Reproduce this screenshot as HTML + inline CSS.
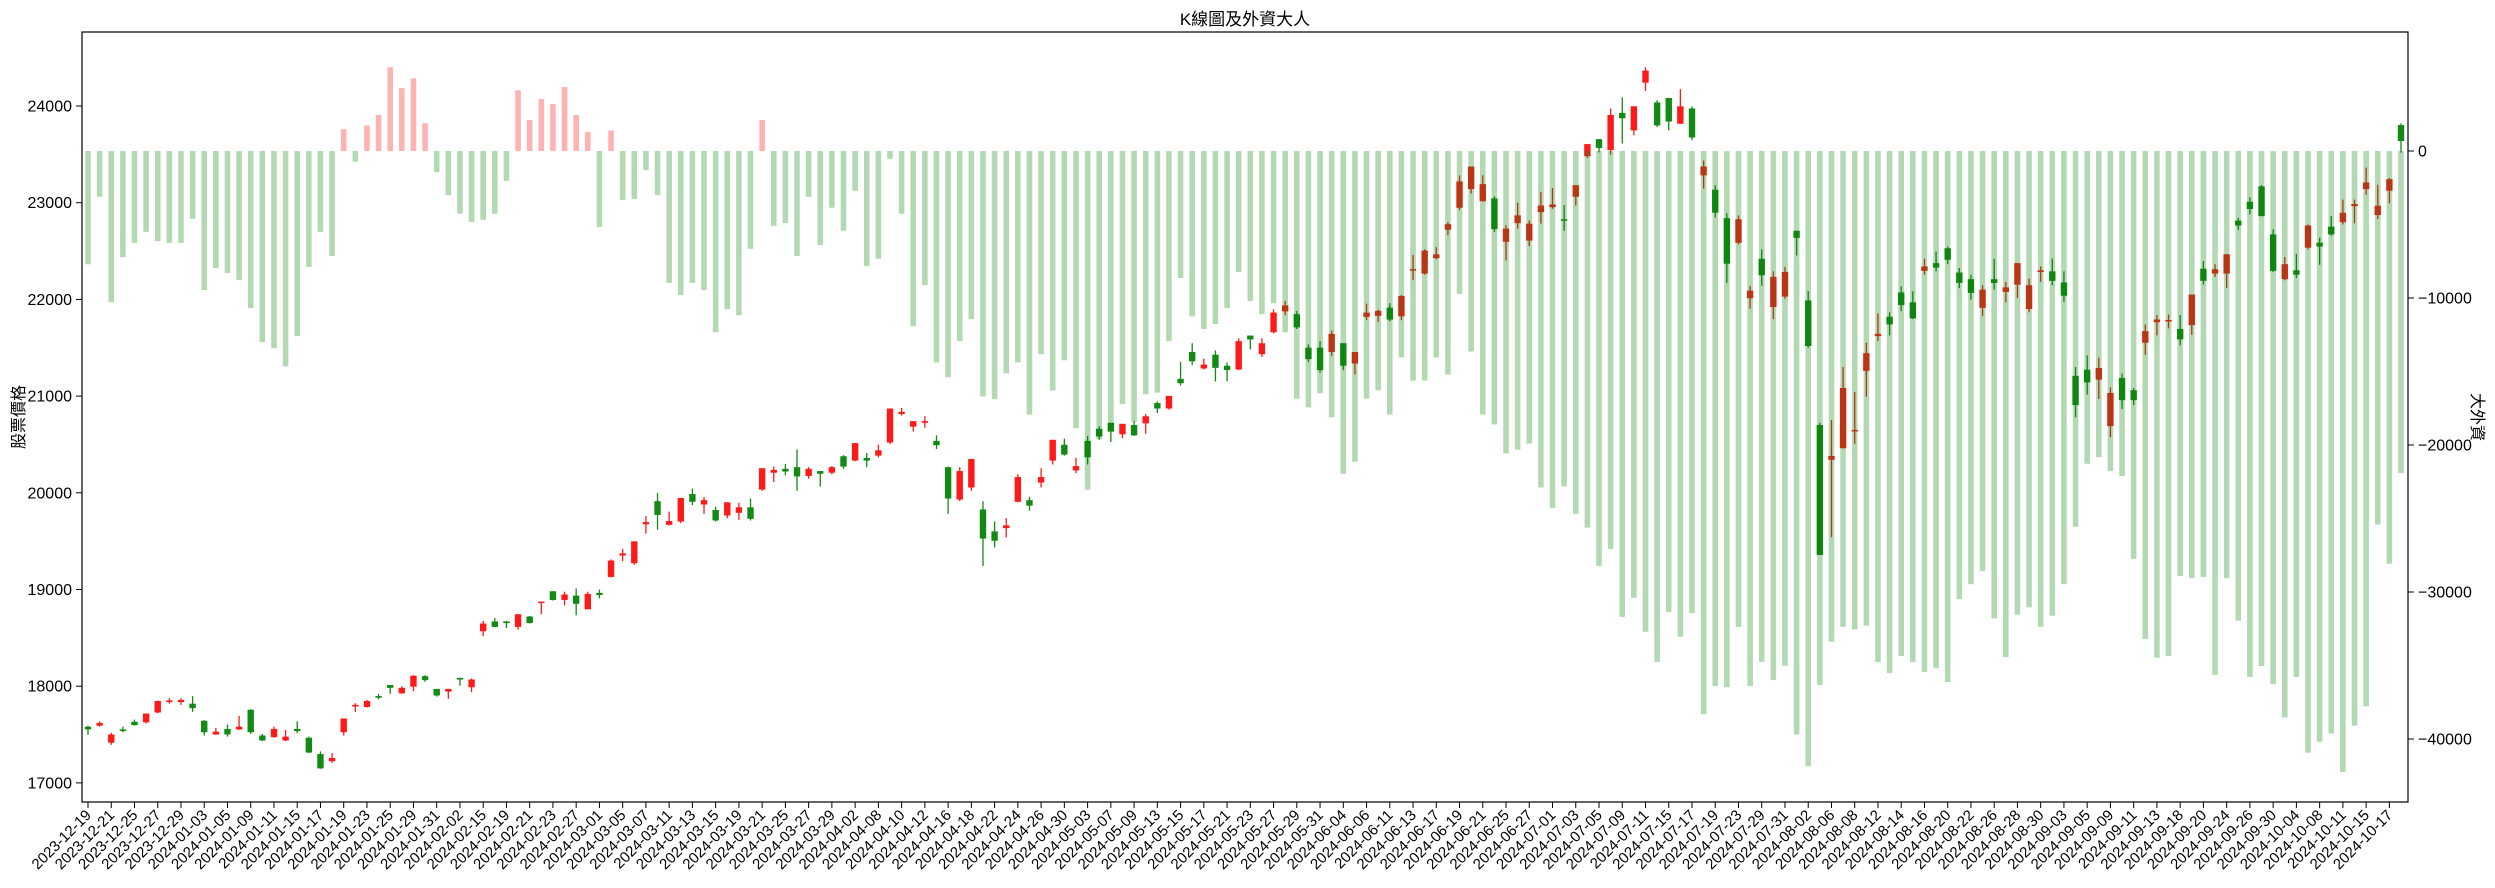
<!DOCTYPE html>
<html><head><meta charset="utf-8">
<style>
html,body{margin:0;padding:0;background:#fff;}
svg{display:block;font-family:"Liberation Sans","Noto Sans CJK TC",sans-serif;}
</style></head>
<body>
<svg id="chart" width="2495" height="888" viewBox="0 0 2495 888" xmlns="http://www.w3.org/2000/svg">
<rect x="0" y="0" width="2495" height="888" fill="#fff"/>
<text x="1245" y="25" font-size="17" text-anchor="middle" fill="#000">K線圖及外資大人</text>
<text transform="translate(24,417) rotate(-90)" font-size="16" text-anchor="middle" fill="#000">股票價格</text>
<text transform="translate(2472,417) rotate(90)" font-size="16" text-anchor="middle" fill="#000">大外資</text>
<g id="candles"></g>
<g id="bars"></g>
<g id="axes"></g>
</svg>
<script>
const opens=[17581,17592,17416,17553,17632,17626,17728,17836,17836,17819,17643,17501,17558,17553,17756,17490,17473,17439,17558,17467,17298,17224,17524,17790,17785,17898,18012,17927,17995,18103,17972,17944,18086,17989,18568,18670,18670,18613,18721,18869,18982,18892,18937,18795,18965,19130,19351,19272,19674,19913,19669,19703,19987,19879,19822,19765,19793,19850,20033,20208,20248,20265,20174,20225,20208,20378,20333,20361,20384,20520,20815,20684,20724,20537,20265,19930,20055,19828,19601,19635,19907,19924,20106,20333,20497,20231,20537,20662,20724,20605,20701,20718,20928,20872,21178,21456,21286,21428,21314,21275,21626,21433,21660,21876,21847,21501,21501,21456,21547,21337,21819,21830,21915,21825,22301,22267,22426,22721,22948,23141,23016,23044,22596,22789,22608,22903,22954,22829,23062,23481,23657,23544,23929,23748,24241,24037,24083,23816,23975,23283,23135,22840,22585,22012,22420,21921,22029,22710,21989,20701,20341,20461,20638,21261,21621,21821,22072,21970,22295,22375,22529,22278,22209,21913,22209,22078,22152,21901,22284,22290,22175,21210,21273,21170,20690,21187,21061,21552,21764,21775,21695,21735,22318,22267,22267,22815,23009,23169,22672,22209,22301,22535,22587,22752,22798,22964,23141,22872,23124,23803];
const highs=[17592,17637,17518,17581,17654,17717,17853,17875,17875,17898,17649,17569,17603,17694,17762,17507,17581,17547,17637,17479,17326,17309,17666,17824,17858,17921,18012,18000,18114,18114,17972,17972,18086,18080,18676,18704,18676,18744,18727,18875,18982,18977,19011,18977,18999,19311,19419,19498,19759,19998,19805,19947,20044,19958,19856,19902,19896,19941,20254,20271,20299,20447,20265,20225,20276,20390,20514,20412,20497,20872,20877,20741,20792,20594,20271,20265,20350,19913,19703,19737,20191,19958,20254,20548,20560,20361,20588,20690,20724,20713,20741,20815,20945,21002,21354,21547,21388,21473,21348,21598,21626,21598,21898,21984,21881,21535,21569,21677,21547,21456,21955,21893,21961,22046,22460,22517,22540,22800,23283,23374,23283,23067,22766,22999,22817,23112,23152,22976,23181,23606,23657,23975,24088,23997,24400,24060,24083,24173,23997,23436,23181,22891,22868,22142,22517,22290,22335,22710,22086,20724,20753,21301,21044,21552,21855,21867,22135,22084,22421,22495,22547,22324,22255,22147,22421,22181,22375,22215,22341,22421,22290,21301,21421,21398,21090,21233,21084,21741,21838,21844,21838,22050,22398,22364,22467,22844,23055,23181,22724,22438,22472,22775,22638,22861,23032,23032,23363,23186,23255,23821];
const lows=[17496,17581,17394,17524,17592,17615,17722,17819,17807,17734,17490,17496,17479,17547,17507,17433,17467,17433,17513,17309,17145,17207,17490,17734,17779,17864,17921,17921,17949,18046,17893,17870,18006,17938,18517,18613,18602,18585,18648,18744,18886,18835,18733,18795,18909,19124,19294,19255,19578,19618,19663,19686,19873,19782,19703,19737,19720,19714,20021,20112,20180,20021,20146,20066,20191,20248,20327,20265,20367,20503,20798,20633,20673,20452,19782,19913,20021,19244,19436,19538,19902,19816,20055,20293,20384,20203,20293,20548,20526,20565,20588,20611,20826,20860,21110,21320,21275,21150,21155,21269,21484,21405,21649,21836,21694,21354,21241,21416,21269,21224,21785,21768,21774,21785,22199,22256,22415,22664,22925,23095,23010,22698,22403,22732,22551,22783,22937,22710,22971,23464,23521,23498,23612,23697,24156,23782,23748,23816,23646,23146,22846,22171,22568,21904,22142,21796,22006,22454,21501,19357,19541,20461,20507,20993,21570,21627,21878,21798,22255,22290,22364,22118,21998,21827,22101,21970,22015,21867,22181,22147,21975,20781,21016,20970,20576,20867,20907,21427,21627,21701,21524,21633,22152,22232,22118,22718,22878,22861,22284,22198,22221,22518,22358,22661,22775,22787,23084,22832,22992,23518];
const closes=[17553,17620,17501,17536,17598,17717,17847,17853,17858,17773,17524,17530,17501,17581,17524,17439,17558,17479,17536,17314,17150,17258,17666,17807,17847,17881,17983,17983,18108,18063,17904,17972,18069,18069,18648,18613,18653,18744,18653,18875,18892,18948,18852,18954,18943,19300,19374,19498,19697,19771,19708,19947,19907,19924,19714,19902,19850,19731,20254,20237,20220,20169,20248,20197,20265,20271,20514,20333,20440,20872,20838,20741,20741,20492,19941,20225,20350,19527,19504,19663,20163,19867,20163,20548,20395,20276,20367,20582,20633,20713,20594,20792,20872,21002,21133,21360,21326,21292,21269,21569,21586,21547,21864,21938,21711,21382,21269,21643,21314,21456,21864,21881,21791,22035,22313,22505,22466,22778,23220,23374,23192,22727,22732,22869,22783,22971,22982,22823,23181,23606,23566,23907,23873,23997,24366,23799,23839,23997,23674,23374,22897,22369,22829,22091,22250,22233,22284,22636,21518,19357,20381,21084,20650,21444,21644,21741,21941,21804,22341,22329,22410,22170,22067,22101,22170,22124,22375,22147,22301,22192,22038,20907,21141,21290,21033,20958,20958,21672,21792,21787,21587,22050,22192,22312,22467,22764,22935,22861,22295,22364,22255,22764,22547,22672,22895,22986,23209,22969,23243,23638];
const foreign=[-7703,-3113,-10279,-7218,-6248,-5501,-6136,-6248,-6248,-4606,-9458,-7965,-8301,-8786,-10689,-13003,-13414,-14645,-12593,-7890,-5501,-7144,1477,-725,1738,2447,5694,4276,4948,1888,-1434,-3001,-4270,-4830,-4681,-4270,-2031,4127,2112,3530,3194,4351,2447,1291,-5166,1402,-3337,-3262,-1285,-3001,-8973,-9793,-8973,-9458,-12332,-10764,-11174,-6659,2112,-5091,-4905,-7144,-3113,-6397,-3860,-5427,-2702,-7816,-7331,-538,-4270,-11921,-9122,-14384,-15392,-12929,-11436,-16698,-16884,-15130,-14384,-17929,-13824,-16287,-14235,-18862,-23042,-19609,-19086,-17220,-18414,-16548,-16436,-12929,-8637,-11249,-12108,-11772,-10689,-8226,-10204,-11100,-10354,-12332,-16847,-17444,-16473,-18116,-21960,-21139,-16847,-16287,-17929,-14048,-15615,-15615,-14048,-15205,-9719,-13638,-17929,-18601,-20579,-20318,-19907,-22893,-24274,-22818,-24684,-25617,-28229,-27073,-31700,-30394,-32708,-34761,-31365,-33044,-31439,-38306,-36403,-36477,-32373,-36403,-34761,-35993,-35022,-39687,-41852,-36328,-33379,-32364,-32552,-32289,-34770,-35522,-34356,-34770,-35446,-35183,-36123,-30484,-29470,-28567,-31800,-34431,-31537,-31048,-32364,-31612,-29470,-25560,-21275,-20823,-21763,-22102,-27740,-33191,-34469,-34356,-28906,-29056,-28981,-35635,-29056,-31950,-35785,-35033,-36274,-38530,-35785,-40935,-40183,-39619,-42251,-39093,-37777,-25410,-28078,-21914];
const dateLabels=["2023-12-19","2023-12-21","2023-12-25","2023-12-27","2023-12-29","2024-01-03","2024-01-05","2024-01-09","2024-01-11","2024-01-15","2024-01-17","2024-01-19","2024-01-23","2024-01-25","2024-01-29","2024-01-31","2024-02-02","2024-02-15","2024-02-19","2024-02-21","2024-02-23","2024-02-27","2024-03-01","2024-03-05","2024-03-07","2024-03-11","2024-03-13","2024-03-15","2024-03-19","2024-03-21","2024-03-25","2024-03-27","2024-03-29","2024-04-02","2024-04-08","2024-04-10","2024-04-12","2024-04-16","2024-04-18","2024-04-22","2024-04-24","2024-04-26","2024-04-30","2024-05-03","2024-05-07","2024-05-09","2024-05-13","2024-05-15","2024-05-17","2024-05-21","2024-05-23","2024-05-27","2024-05-29","2024-05-31","2024-06-04","2024-06-06","2024-06-11","2024-06-13","2024-06-17","2024-06-19","2024-06-21","2024-06-25","2024-06-27","2024-07-01","2024-07-03","2024-07-05","2024-07-09","2024-07-11","2024-07-15","2024-07-17","2024-07-19","2024-07-23","2024-07-29","2024-07-31","2024-08-02","2024-08-06","2024-08-08","2024-08-12","2024-08-14","2024-08-16","2024-08-20","2024-08-22","2024-08-26","2024-08-28","2024-08-30","2024-09-03","2024-09-05","2024-09-09","2024-09-11","2024-09-13","2024-09-18","2024-09-20","2024-09-24","2024-09-26","2024-09-30","2024-10-04","2024-10-08","2024-10-11","2024-10-15","2024-10-17"];
const priceTicks=[17000,18000,19000,20000,21000,22000,23000,24000];
const foreignTicks=[0,-10000,-20000,-30000,-40000];

const NS="http://www.w3.org/2000/svg";
const PL=82,PR=2408,PT=32,PB=802;
const N=opens.length;
const x0=88,x1=2401;
function xOf(i){return x0+i*(x1-x0)/(N-1);}
function yP(v){return 106+(24000-v)*0.0967;}
function yB(v){return 151-v*0.0147;}
function mk(tag,attrs,parent){const e=document.createElementNS(NS,tag);for(const k in attrs)e.setAttribute(k,attrs[k]);parent.appendChild(e);return e;}
const step=(x1-x0)/(N-1);
const cw=step*0.55, bw=step*0.48;
const gC=document.getElementById('candles');
for(let i=0;i<N;i++){
  const up=closes[i]>=opens[i];
  const col=up?'#ff1a1a':'#138a13';
  const x=xOf(i);
  const w=mk('line',{x1:x,x2:x,y1:yP(highs[i]),y2:yP(lows[i]),stroke:col,'stroke-width':1.3},gC);
  
  
  const top=yP(Math.max(opens[i],closes[i])),bot=yP(Math.min(opens[i],closes[i]));
  const b=mk('rect',{x:x-cw/2,y:top,width:cw,height:Math.max(bot-top,1.5),fill:col},gC);
  
  
}
const gB=document.getElementById('bars');
for(let i=0;i<N;i++){
  const v=foreign[i];
  const y0=yB(0),y1=yB(v);
  const r=mk('rect',{x:xOf(i)-bw/2,y:Math.min(y0,y1),width:bw,height:Math.abs(y1-y0),fill:v>=0?'#ff0000':'#008000','fill-opacity':0.3},gB);
  
  
}
const gA=document.getElementById('axes');
const frame=mk('rect',{x:PL,y:PT,width:PR-PL,height:PB-PT,fill:'none',stroke:'#000','stroke-width':1.2},gA);


priceTicks.forEach(v=>{
  const y=yP(v);
  mk('line',{x1:PL-6,x2:PL,y1:y,y2:y,stroke:'#000','stroke-width':1},gA);
  const t=mk('text',{x:PL-10,y:y+5.5,'font-size':16,'text-anchor':'end',fill:'#000'},gA);
  t.textContent=v;
  
  
});
foreignTicks.forEach(v=>{
  const y=yB(v);
  mk('line',{x1:PR,x2:PR+6,y1:y,y2:y,stroke:'#000','stroke-width':1},gA);
  const t=mk('text',{x:PR+10,y:y+5.5,'font-size':16,'text-anchor':'start',fill:'#000'},gA);
  t.textContent=String(v).replace('-','\u2212');
  
  
});
dateLabels.forEach((d,k)=>{
  const x=xOf(k*2);
  mk('line',{x1:x,x2:x,y1:PB,y2:PB+6,stroke:'#000','stroke-width':1},gA);
  const t=mk('text',{transform:`translate(${x+4},${PB+14}) rotate(-45)`,'font-size':15,'text-anchor':'end',fill:'#000'},gA);
  t.textContent=d;
  
  
});
</script>
</body></html>
